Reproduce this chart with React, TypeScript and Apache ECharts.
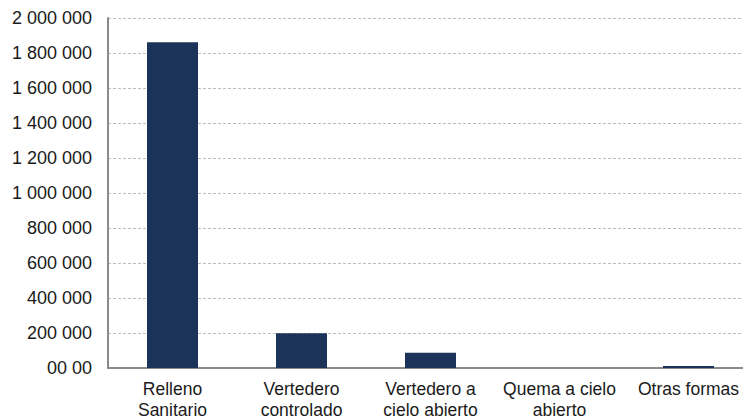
import React, { useEffect, useRef } from "react";
import * as echarts from "echarts";

const categories = [
  "Relleno\nSanitario",
  "Vertedero\ncontrolado",
  "Vertedero a\ncielo abierto",
  "Quema a cielo\nabierto",
  "Otras formas",
];
const values = [1862000, 198000, 87000, 0, 12000];
const yTickLabels: Record<number, string> = {
  0: "00 00",
  200000: "200 000",
  400000: "400 000",
  600000: "600 000",
  800000: "800 000",
  1000000: "1 000 000",
  1200000: "1 200 000",
  1400000: "1 400 000",
  1600000: "1 600 000",
  1800000: "1 800 000",
  2000000: "2 000 000",
};

export default function App() {
  const ref = useRef<HTMLDivElement>(null);
  useEffect(() => {
    if (!ref.current) return;
    const chart = echarts.init(ref.current, null, { renderer: "svg" });
    chart.setOption({
      animation: false,
      textStyle: { fontFamily: "Liberation Sans, Arial, sans-serif" },
      grid: { left: 108, top: 18, bottom: 52, right: 0, containLabel: false },
      xAxis: {
        type: "category",
        data: categories,
        axisLine: { show: true, lineStyle: { color: "#8a8a8a", width: 2 } },
        axisTick: { show: false },
        axisLabel: {
          color: "#1a1a1a",
          fontSize: 17.5,
          lineHeight: 21,
          margin: 10,
          interval: 0,
          fontFamily: "Liberation Sans, Arial, sans-serif",
        },
      },
      yAxis: {
        type: "value",
        min: 0,
        max: 2000000,
        interval: 200000,
        axisLine: { show: true, lineStyle: { color: "#8a8a8a", width: 2 } },
        axisTick: { show: false },
        splitLine: {
          show: true,
          lineStyle: { color: "#bdbdbd", type: [3, 2], width: 1 },
        },
        axisLabel: {
          color: "#1a1a1a",
          fontSize: 18,
          margin: 16,
          fontFamily: "Liberation Sans, Arial, sans-serif",
          formatter: (v: number) => yTickLabels[v] ?? String(v),
        },
      },
      series: [
        {
          type: "bar",
          data: values,
          barWidth: 51,
          itemStyle: { color: "#1b3358" },
        },
      ],
    });
    return () => chart.dispose();
  }, []);
  return (
    <div style={{ position: "fixed", left: 0, top: 0, width: 743, height: 420, overflow: "hidden", background: "#fff" }}>
      <div ref={ref} style={{ position: "absolute", left: 0, top: 0, width: 753, height: 420 }} />
    </div>
  );
}
